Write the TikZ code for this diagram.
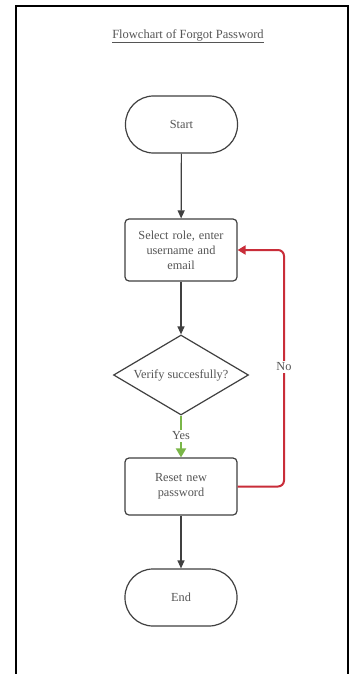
\documentclass[tikz,border=0pt]{standalone}
\usepackage{fontspec}
\setmainfont{Liberation Serif}
\usetikzlibrary{arrows.meta,shapes.geometric,calc}
\definecolor{txt}{HTML}{555555}
\definecolor{ln}{HTML}{404040}
\definecolor{redl}{HTML}{C92D39}
\definecolor{grn}{HTML}{7AB648}
\begin{document}
\begin{tikzpicture}[x=1pt,y=-1pt,
  base/.style={draw=ln, line width=1.2pt, fill=white, text=txt, font=\fontsize{12.3}{15}\selectfont, align=center, inner sep=2pt},
  terminal/.style={base, rounded corners=28pt, minimum width=112pt, minimum height=57pt},
  procbox/.style={base, rounded corners=4pt, minimum width=112pt, text width=90pt},
  decision/.style={base, diamond, minimum width=135pt, minimum height=80pt, inner sep=0pt, aspect=1.69},
  arr/.style={draw=ln, line width=1.2pt, -{Triangle[length=8pt,width=7pt]}},
  redarr/.style={draw=redl, line width=2pt, rounded corners=6pt, -{Triangle[length=8pt,width=9pt]}},
  grnarr/.style={draw=grn, line width=2pt, -{Triangle[length=9pt,width=10pt]}},
  lbl/.style={fill=white, text=txt, font=\fontsize{12.3}{14}\selectfont, inner sep=1.5pt}
]
\useasboundingbox (0,0) rectangle (351,674);
\fill[white] (0,0) rectangle (351,674);
\draw[line width=2pt, black] (16,680) -- (16,6) -- (348,6) -- (348,680);

\node[text=txt, font=\fontsize{12.5}{14}\selectfont] (title) at (188,36) {\underline{Flowchart of Forgot Password}};

\node[terminal] (start) at (181.5,124.5) {Start};
\node[procbox, minimum height=62pt] (select) at (181,250) {Select role, enter\\username and\\email};
\node[decision] (verify) at (181,375) {Verify succesfully?};
\node[procbox, minimum height=57pt] (reset) at (181,486.5) {Reset new\\password};
\node[terminal] (end) at (181,597.5) {End};

\coordinate (loopx) at (284,0);

\draw[arr] (start) -- (select);
\draw[arr] (select) -- (verify);
\draw[grnarr] (verify) -- (reset);
\draw[arr] (reset) -- (end);
\draw[redarr] (reset.east) -- (reset.east -| loopx) -- (select.east -| loopx) -- (select.east);

\node[lbl] (no) at (284,367) {No};
\node[lbl] (yes) at (181,436) {Yes};
\end{tikzpicture}
\end{document}
